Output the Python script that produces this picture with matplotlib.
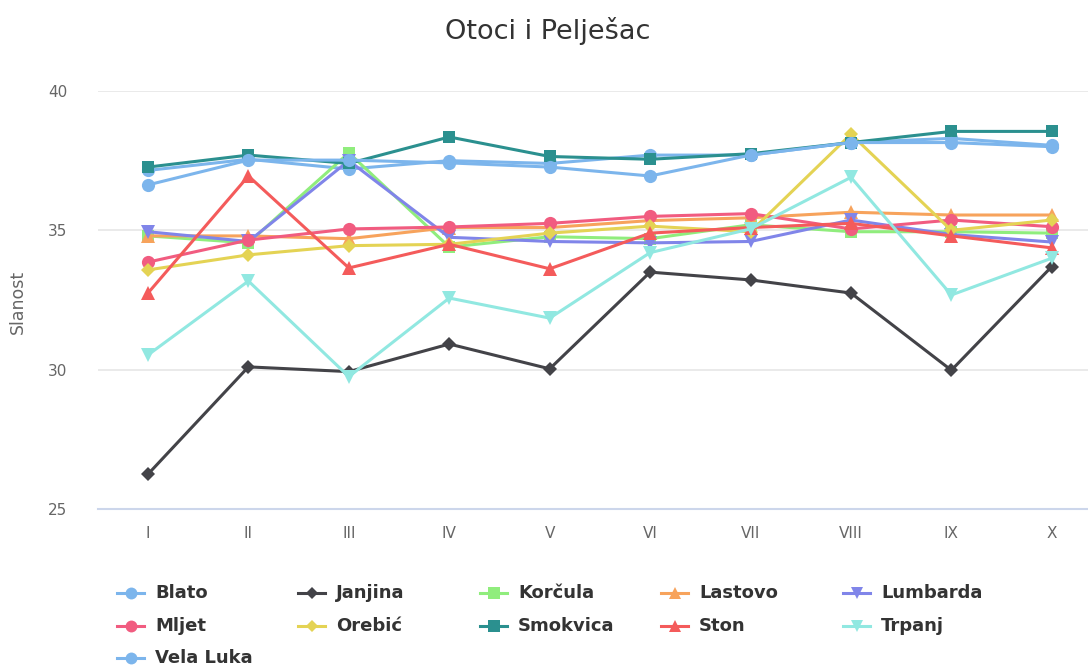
import matplotlib.pyplot as plt
from matplotlib.lines import Line2D

months = ["I", "II", "III", "IV", "V", "VI", "VII", "VIII", "IX", "X"]

blato = [37.15, 37.55, 37.2, 37.5, 37.4, 37.7, 37.7, 38.15, 38.3, 38.05]
janjina = [26.25, 30.1, 29.93, 30.92, 30.03, 33.5, 33.22, 32.75, 29.98, 33.7]
korcula = [34.8, 34.55, 37.78, 34.4, 34.77, 34.7, 35.2, 34.95, 34.95, 34.9]
lastovo = [34.8, 34.8, 34.7, 35.1, 35.1, 35.35, 35.45, 35.65, 35.55, 35.55]
lumbarda = [34.95, 34.6, 37.5, 34.75, 34.6, 34.55, 34.6, 35.37, 34.85, 34.58]
mljet = [33.86, 34.65, 35.05, 35.12, 35.25, 35.5, 35.6, 35.05, 35.37, 35.13]
orebic = [33.58, 34.12, 34.45, 34.5, 34.9, 35.15, 34.95, 38.45, 35.0, 35.37]
smokvica = [37.27, 37.7, 37.4, 38.35, 37.65, 37.55, 37.75, 38.15, 38.55, 38.55]
ston = [32.75, 36.95, 33.65, 34.5, 33.62, 34.9, 35.1, 35.25, 34.8, 34.37]
trpanj = [30.53, 33.18, 29.75, 32.57, 31.85, 34.2, 35.05, 36.9, 32.68, 34.0]
vela_luka = [36.63, 37.52, 37.52, 37.42, 37.27, 36.95, 37.7, 38.15, 38.15, 38.0]

names = ["Blato", "Janjina", "Korčula", "Lastovo", "Lumbarda", "Mljet",
         "Orebić", "Smokvica", "Ston", "Trpanj", "Vela Luka"]
series = [blato, janjina, korcula, lastovo, lumbarda, mljet,
          orebic, smokvica, ston, trpanj, vela_luka]

# highcharts default palette / marker cycle
colours = ["#7cb5ec", "#434348", "#90ed7d", "#f7a35c", "#8085e9", "#f15c80",
           "#e4d354", "#2b908f", "#f45b5b", "#91e8e1", "#7cb5ec"]
markers = ["o", "D", "s", "^", "v"]
msizes = {"o": 9.5, "D": 7, "s": 9, "^": 9.5, "v": 9.5}

W, H = 1088, 666
fig = plt.figure(figsize=(W / 100, H / 100), dpi=100)
ax = fig.add_axes([97.8 / W, (H - 509) / H, 1004.2 / W, 418 / H])

x = list(range(len(months)))
for i, (name, vals) in enumerate(zip(names, series)):
    m = markers[i % 5]
    ax.plot(x, vals, color=colours[i], linewidth=2.2, marker=m,
            markersize=msizes[m], markeredgewidth=0, zorder=3 + i * 0.1)

ax.set_xlim(-0.5, 9.5)
ax.set_ylim(25, 40)
ax.set_yticks([25, 30, 35, 40])
ax.set_xticks(x)
ax.set_xticklabels(months)
ax.tick_params(axis="both", length=0, labelsize=11, labelcolor="#666666")
ax.tick_params(axis="x", pad=12)
ax.tick_params(axis="y", pad=22)
for lab in ax.get_yticklabels():
    lab.set_horizontalalignment("right")
ax.grid(axis="y", color="#e6e6e6", linewidth=1.2, zorder=0)
for s in ["top", "right", "left"]:
    ax.spines[s].set_visible(False)
ax.spines["bottom"].set_color("#ccd6eb")
ax.spines["bottom"].set_linewidth(1.5)
ax.set_axisbelow(True)

fig.text(548 / W, 1 - 31 / H, "Otoci i Pelješac", ha="center", va="center",
         fontsize=19.5, color="#333333")
fig.text(18 / W, 1 - 302 / H, "Slanost", ha="center", va="center",
         rotation=90, fontsize=12.5, color="#666666")

# legend laid out like highcharts: fixed item width, 5 per row
col_x = [117, 298, 480, 661, 843]
row_y = [593, 626, 658]
for i, name in enumerate(names):
    cx = col_x[i % 5]
    cy = row_y[i // 5]
    m = markers[i % 5]
    fig.add_artist(Line2D([cx / W, (cx + 27) / W], [1 - cy / H, 1 - cy / H],
                          color=colours[i], linewidth=2.2,
                          transform=fig.transFigure))
    fig.add_artist(Line2D([(cx + 13.5) / W], [1 - cy / H], color=colours[i],
                          marker=m, markersize=msizes[m] * 0.9,
                          markeredgewidth=0, transform=fig.transFigure))
    fig.text((cx + 38) / W, 1 - cy / H, name, ha="left", va="center",
             fontsize=13, fontweight="bold", color="#333333",
             family=["Liberation Sans Narrow", "DejaVu Sans"])

fig.savefig("out.png", dpi=100)
